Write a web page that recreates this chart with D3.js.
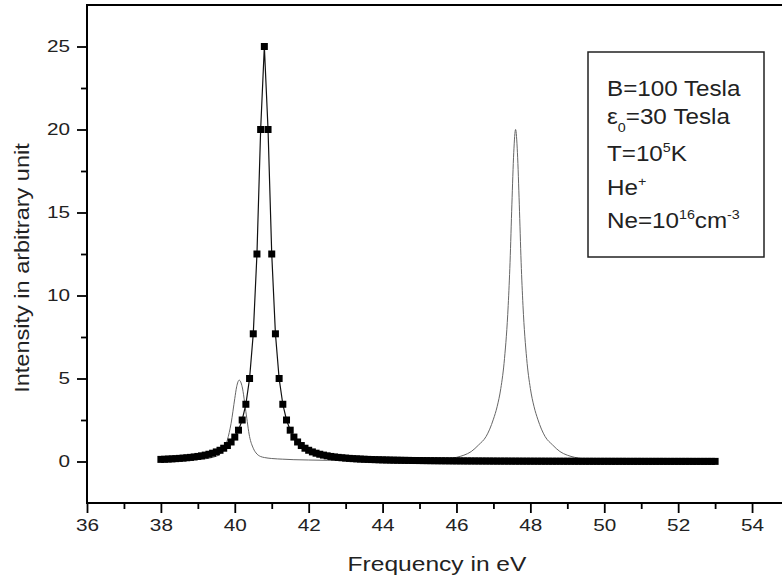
<!DOCTYPE html>
<html>
<head>
<meta charset="utf-8">
<script src="https://cdn.jsdelivr.net/npm/d3@7"></script>
<style>
  body { margin: 0; background: #fff; }
  svg { display: block; font-family: "Liberation Sans", Arial, sans-serif; }
</style>
</head>
<body>
<div id="chart"></div>
<script>
// Black series (squares + line): sampled every 0.1 eV from 38.0 to 53.0
var blackStart = 38.0;
var blackStep = 0.1;
var blackY = [
  0.127, 0.136, 0.147, 0.159, 0.172, 0.188, 0.205, 0.225, 0.248, 0.274,
  0.305, 0.341, 0.385, 0.437, 0.500, 0.578, 0.676, 0.800, 0.962, 1.176,
  1.471, 1.887, 2.500, 3.448, 5.000, 7.692, 12.5, 20.0, 25.0, 20.0,
  12.5, 7.692, 5.000, 3.448, 2.500, 1.887, 1.471, 1.176, 0.962, 0.800,
  0.676, 0.578, 0.500, 0.437, 0.385, 0.341, 0.305, 0.274, 0.248, 0.225,
  0.205, 0.188, 0.172, 0.159, 0.147, 0.136, 0.127, 0.118, 0.111, 0.104,
  0.097, 0.092, 0.086, 0.081, 0.077, 0.073, 0.069, 0.066, 0.062, 0.059,
  0.057, 0.054, 0.052, 0.049, 0.047, 0.045, 0.043, 0.042, 0.040, 0.038,
  0.037, 0.035, 0.034, 0.033, 0.032, 0.031, 0.030, 0.029, 0.028, 0.027,
  0.026, 0.025, 0.024, 0.024, 0.023, 0.022, 0.022, 0.021, 0.020, 0.020,
  0.019, 0.019, 0.018, 0.018, 0.017, 0.017, 0.016, 0.016, 0.016, 0.015,
  0.015, 0.015, 0.014, 0.014, 0.014, 0.013, 0.013, 0.013, 0.012, 0.012,
  0.012, 0.012, 0.011, 0.011, 0.011, 0.011, 0.010, 0.010, 0.010, 0.010,
  0.010, 0.009, 0.009, 0.009, 0.009, 0.009, 0.009, 0.008, 0.008, 0.008,
  0.008, 0.008, 0.008, 0.008, 0.007, 0.007, 0.007, 0.007, 0.007, 0.007,
  0.007
];

// Grey series (thin line)
var greyX = [38.0, 38.5, 39.0, 39.4, 39.6, 39.7, 39.8, 39.9, 40.0, 40.05,
  40.12, 40.2, 40.3, 40.4, 40.5, 40.6, 40.7, 40.8, 41.0, 41.3,
  41.6, 42.0, 42.5, 43.0, 43.5, 44.0, 44.5, 45.0, 45.5, 45.8,
  46.0, 46.2, 46.4, 46.6, 46.8, 46.9, 47.0, 47.1, 47.2, 47.3,
  47.4, 47.45, 47.5, 47.55, 47.6, 47.65, 47.7, 47.75, 47.8, 47.9,
  48.0, 48.1, 48.2, 48.3, 48.4, 48.6, 48.8, 49.0, 49.2, 49.5,
  50.0, 51.0, 52.0, 53.0];
var greyY = [0.05, 0.07, 0.12, 0.25, 0.45, 0.7, 1.3, 2.3, 3.8, 4.5,
  4.9, 4.5, 3.0, 1.5, 0.8, 0.45, 0.3, 0.24, 0.18, 0.14,
  0.11, 0.09, 0.07, 0.06, 0.06, 0.06, 0.07, 0.08, 0.12, 0.17,
  0.25, 0.38, 0.6, 1.0, 1.5, 1.95, 2.55, 3.3, 4.4, 6.2,
  9.4, 12.0, 15.5, 18.6, 20.0, 18.6, 15.5, 12.0, 9.4, 6.2,
  4.4, 3.3, 2.55, 1.95, 1.5, 1.0, 0.6, 0.38, 0.25, 0.14,
  0.09, 0.05, 0.04, 0.03];

var xMajor = [36, 38, 40, 42, 44, 46, 48, 50, 52, 54];
var xMinor = [37, 39, 41, 43, 45, 47, 49, 51, 53];
var yMajor = [0, 5, 10, 15, 20, 25];
var yMinor = [2.5, 7.5, 12.5, 17.5, 22.5];

var width = 782, height = 583;
var plotLeft = 87, plotTop = 5, plotRight = 789, plotBottom = 503;

var svg = d3.select("#chart").append("svg")
  .attr("width", width)
  .attr("height", height);

var x = d3.scaleLinear().domain([36, 55]).range([plotLeft, plotRight]);
var y = d3.scaleLinear().domain([-2.5, 27.5]).range([plotBottom, plotTop]);

var blackData = blackY.map(function (v, i) {
  return { x: blackStart + i * blackStep, y: v };
});
var greyData = greyX.map(function (v, i) {
  return { x: v, y: greyY[i] };
});

var line = d3.line()
  .x(function (d) { return x(d.x); })
  .y(function (d) { return y(d.y); });

// grey curve under the black one
svg.append("path")
  .datum(greyData)
  .attr("fill", "none")
  .attr("stroke", "#666")
  .attr("stroke-width", 1)
  .attr("d", line.curve(d3.curveMonotoneX));

line.curve(d3.curveLinear);
svg.append("path")
  .datum(blackData)
  .attr("fill", "none")
  .attr("stroke", "#111")
  .attr("stroke-width", 1.2)
  .attr("d", line);

var sq = 7;
svg.append("g").selectAll("rect")
  .data(blackData)
  .enter().append("rect")
  .attr("x", function (d) { return x(d.x) - sq / 2; })
  .attr("y", function (d) { return y(d.y) - sq / 2; })
  .attr("width", sq)
  .attr("height", sq)
  .attr("fill", "#000");

// axes
var tickScale = 1.22;

var xAxis = svg.append("g")
  .attr("transform", "translate(0," + plotBottom + ")")
  .call(d3.axisBottom(x).tickValues(xMajor).tickSize(10).tickPadding(8).tickFormat(d3.format("d")));
svg.append("g")
  .attr("transform", "translate(0," + plotBottom + ")")
  .call(d3.axisBottom(x).tickValues(xMinor).tickSize(6).tickFormat(""));

var yAxis = svg.append("g")
  .attr("transform", "translate(" + plotLeft + ",0)")
  .call(d3.axisLeft(y).tickValues(yMajor).tickSize(10).tickFormat(d3.format("d")));
svg.append("g")
  .attr("transform", "translate(" + plotLeft + ",0)")
  .call(d3.axisLeft(y).tickValues(yMinor).tickSize(6).tickFormat(""));

svg.selectAll(".domain").remove();
svg.selectAll(".tick line").attr("stroke", "#000").attr("stroke-width", 1.8);
svg.selectAll(".tick text")
  .attr("fill", "#222")
  .attr("font-size", 17)
  .attr("font-family", "'Liberation Sans', Arial, sans-serif");
xAxis.selectAll(".tick text")
  .attr("y", 16)
  .attr("transform", "scale(" + tickScale + ",1)");
yAxis.selectAll(".tick text")
  .attr("x", -17 / tickScale)
  .attr("transform", "scale(" + tickScale + ",1)");

// frame
svg.append("rect")
  .attr("x", plotLeft)
  .attr("y", plotTop)
  .attr("width", plotRight - plotLeft)
  .attr("height", plotBottom - plotTop)
  .attr("fill", "none")
  .attr("stroke", "#000")
  .attr("stroke-width", 2);

// axis titles
svg.append("text")
  .attr("transform", "translate(437,571) scale(1.17,1)")
  .attr("text-anchor", "middle")
  .attr("fill", "#222")
  .style("font-size", "21px")
  .text("Frequency in eV");

svg.append("text")
  .attr("transform", "translate(29,268) rotate(-90) scale(1.12,1)")
  .attr("text-anchor", "middle")
  .attr("fill", "#222")
  .style("font-size", "21px")
  .text("Intensity in arbitrary unit");

// legend box
svg.append("rect")
  .attr("x", 588)
  .attr("y", 52)
  .attr("width", 176)
  .attr("height", 205)
  .attr("fill", "#fff")
  .attr("stroke", "#222")
  .attr("stroke-width", 1.5);

var leg = svg.append("g")
  .attr("transform", "translate(607,0) scale(1.1,1)")
  .attr("fill", "#222")
  .style("font-size", "22px");

leg.append("text").attr("y", 96).text("B=100 Tesla");

var l2 = leg.append("text").attr("y", 124);
l2.append("tspan").text("ε");
l2.append("tspan").attr("dy", 8).style("font-size", "13px").text("0");
l2.append("tspan").attr("dy", -8).text("=30 Tesla");

var l3 = leg.append("text").attr("y", 161);
l3.append("tspan").text("T=10");
l3.append("tspan").attr("dy", -9).style("font-size", "13px").text("5");
l3.append("tspan").attr("dy", 9).text("K");

var l4 = leg.append("text").attr("y", 195);
l4.append("tspan").text("He");
l4.append("tspan").attr("dy", -9).style("font-size", "13px").text("+");

var l5 = leg.append("text").attr("y", 228);
l5.append("tspan").text("Ne=10");
l5.append("tspan").attr("dy", -9).style("font-size", "13px").text("16");
l5.append("tspan").attr("dy", 9).text("cm");
l5.append("tspan").attr("dy", -9).style("font-size", "13px").text("-3");
</script>
</body>
</html>
